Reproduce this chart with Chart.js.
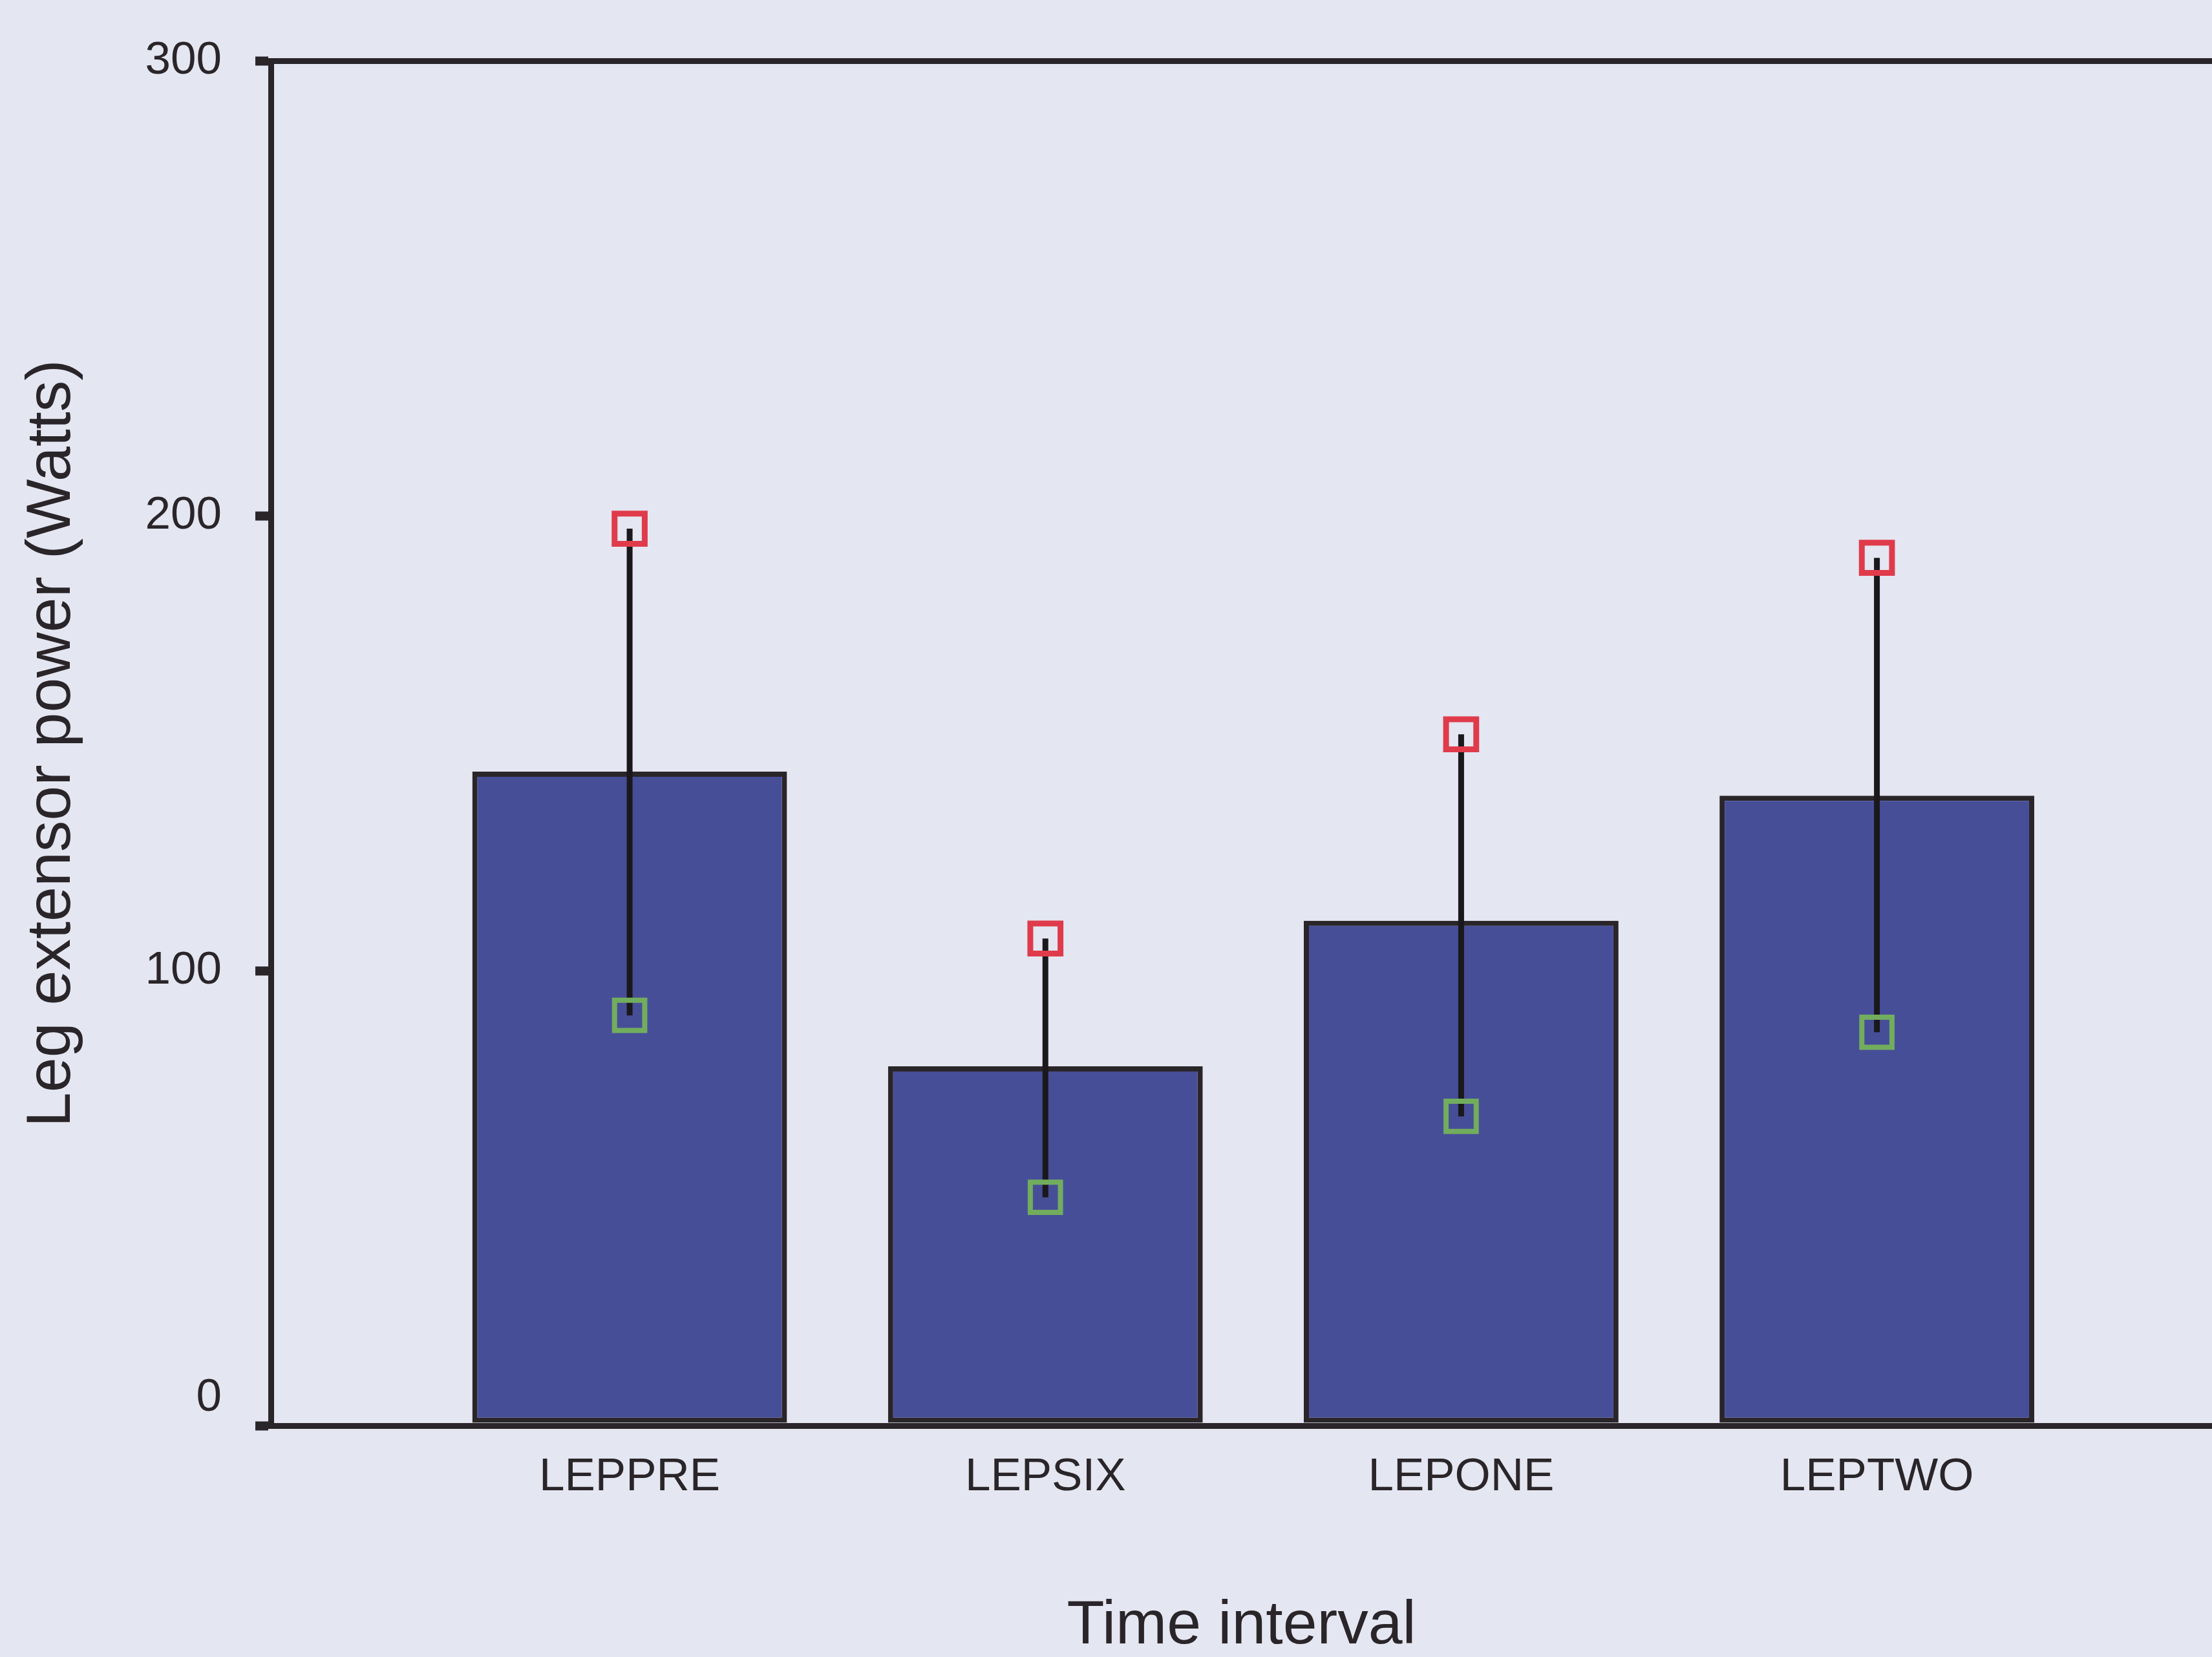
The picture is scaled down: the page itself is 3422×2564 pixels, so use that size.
<!DOCTYPE html>
<html lang="en">
<head>
    <meta charset="UTF-8">
    <title>Leg extensor power by time interval</title>
    <script src="https://cdn.jsdelivr.net/npm/chart.js"></script>
    <style>
        html, body {
            margin: 0;
            padding: 0;
            overflow: hidden;
            background-color: #e4e6f1;
        }
        #powerChart {
            display: block;
        }
    </style>
</head>
<body>
    <canvas id="powerChart" width="3422" height="2564"></canvas>

    <script>
        // Time intervals and leg extensor power (Watts)
        const categories = ['LEPPRE', 'LEPSIX', 'LEPONE', 'LEPTWO'];
        const meanPower = [143.8, 79, 111, 138.5];
        const upperPower = [197.2, 107.1, 152, 190.8];
        const lowerPower = [90.2, 50.2, 68, 86.5];
        const yTicks = [0, 100, 200, 300];

        const ink = '#2a2529';
        const fontFamily = "'Liberation Sans', Arial, sans-serif";

        const barPoints = meanPower.map((v, i) => ({ x: i, y: v }));
        const rangePoints = categories.map((c, i) => ({ x: i, y: [lowerPower[i], upperPower[i]] }));
        const upperPoints = upperPower.map((v, i) => ({ x: i, y: v }));
        const lowerPoints = lowerPower.map((v, i) => ({ x: i, y: v }));

        const ctx = document.getElementById('powerChart').getContext('2d');

        new Chart(ctx, {
            type: 'bar',
            data: {
                datasets: [
                    {
                        // top of the range, hollow red square
                        type: 'line',
                        data: upperPoints,
                        showLine: false,
                        pointStyle: 'rect',
                        pointRadius: 33,
                        pointBorderWidth: 9,
                        pointBorderColor: '#e03b4b',
                        pointBackgroundColor: 'transparent',
                        order: 0
                    },
                    {
                        // bottom of the range, hollow green square
                        type: 'line',
                        data: lowerPoints,
                        showLine: false,
                        pointStyle: 'rect',
                        pointRadius: 33,
                        pointBorderWidth: 8,
                        pointBorderColor: '#72ad5e',
                        pointBackgroundColor: 'transparent',
                        order: 0
                    },
                    {
                        // vertical line between the two squares
                        data: rangePoints,
                        grouped: false,
                        maxBarThickness: 9,
                        backgroundColor: '#1b181c',
                        borderWidth: 0,
                        order: 1
                    },
                    {
                        data: barPoints,
                        grouped: false,
                        categoryPercentage: 1,
                        barPercentage: 0.757,
                        backgroundColor: '#474e98',
                        borderColor: ink,
                        borderWidth: 8,
                        borderSkipped: false,
                        order: 2
                    }
                ]
            },
            options: {
                responsive: false,
                animation: false,
                devicePixelRatio: 1,
                layout: {
                    autoPadding: false,
                    padding: { top: 76, left: 0, right: 0, bottom: 0 }
                },
                plugins: {
                    legend: { display: false },
                    tooltip: { enabled: false }
                },
                scales: {
                    x: {
                        type: 'linear',
                        offset: false,
                        min: -0.863,
                        max: 3.806,
                        afterFit: (scale) => { scale.height = 358; },
                        grid: { display: false },
                        border: { display: true, color: ink, width: 9 },
                        ticks: {
                            stepSize: 1,
                            includeBounds: false,
                            maxRotation: 0,
                            autoSkip: false,
                            padding: 30,
                            color: ink,
                            font: { family: fontFamily, size: 71 },
                            callback: (value) => categories[value] ?? ''
                        },
                        title: {
                            display: true,
                            text: 'Time interval',
                            color: ink,
                            font: { family: fontFamily, size: 95, lineHeight: 1 },
                            padding: { top: 0, bottom: 0 }
                        }
                    },
                    y: {
                        min: 0,
                        max: 300,
                        afterFit: (scale) => { scale.width = 419; },
                        afterBuildTicks: (scale) => {
                            scale.ticks = yTicks.map(v => ({ value: v }));
                        },
                        grid: {
                            // only the frame line at the top of the plot
                            color: (c) => c.tick && c.tick.value === 300 ? ink : 'transparent',
                            lineWidth: 9,
                            tickColor: ink,
                            tickWidth: 14,
                            tickLength: 24
                        },
                        border: { display: true, color: ink, width: 9 },
                        ticks: {
                            padding: 52,
                            color: ink,
                            font: { family: fontFamily, size: 71 },
                            // the zero label sits half a line above its tick
                            callback: (value) => value === 0 ? ['0', ''] : String(value)
                        },
                        title: {
                            display: true,
                            text: 'Leg extensor power (Watts)',
                            color: ink,
                            font: { family: fontFamily, size: 97, lineHeight: 1 },
                            padding: { top: 33, bottom: 0 }
                        }
                    }
                }
            }
        });
    </script>
</body>
</html>
